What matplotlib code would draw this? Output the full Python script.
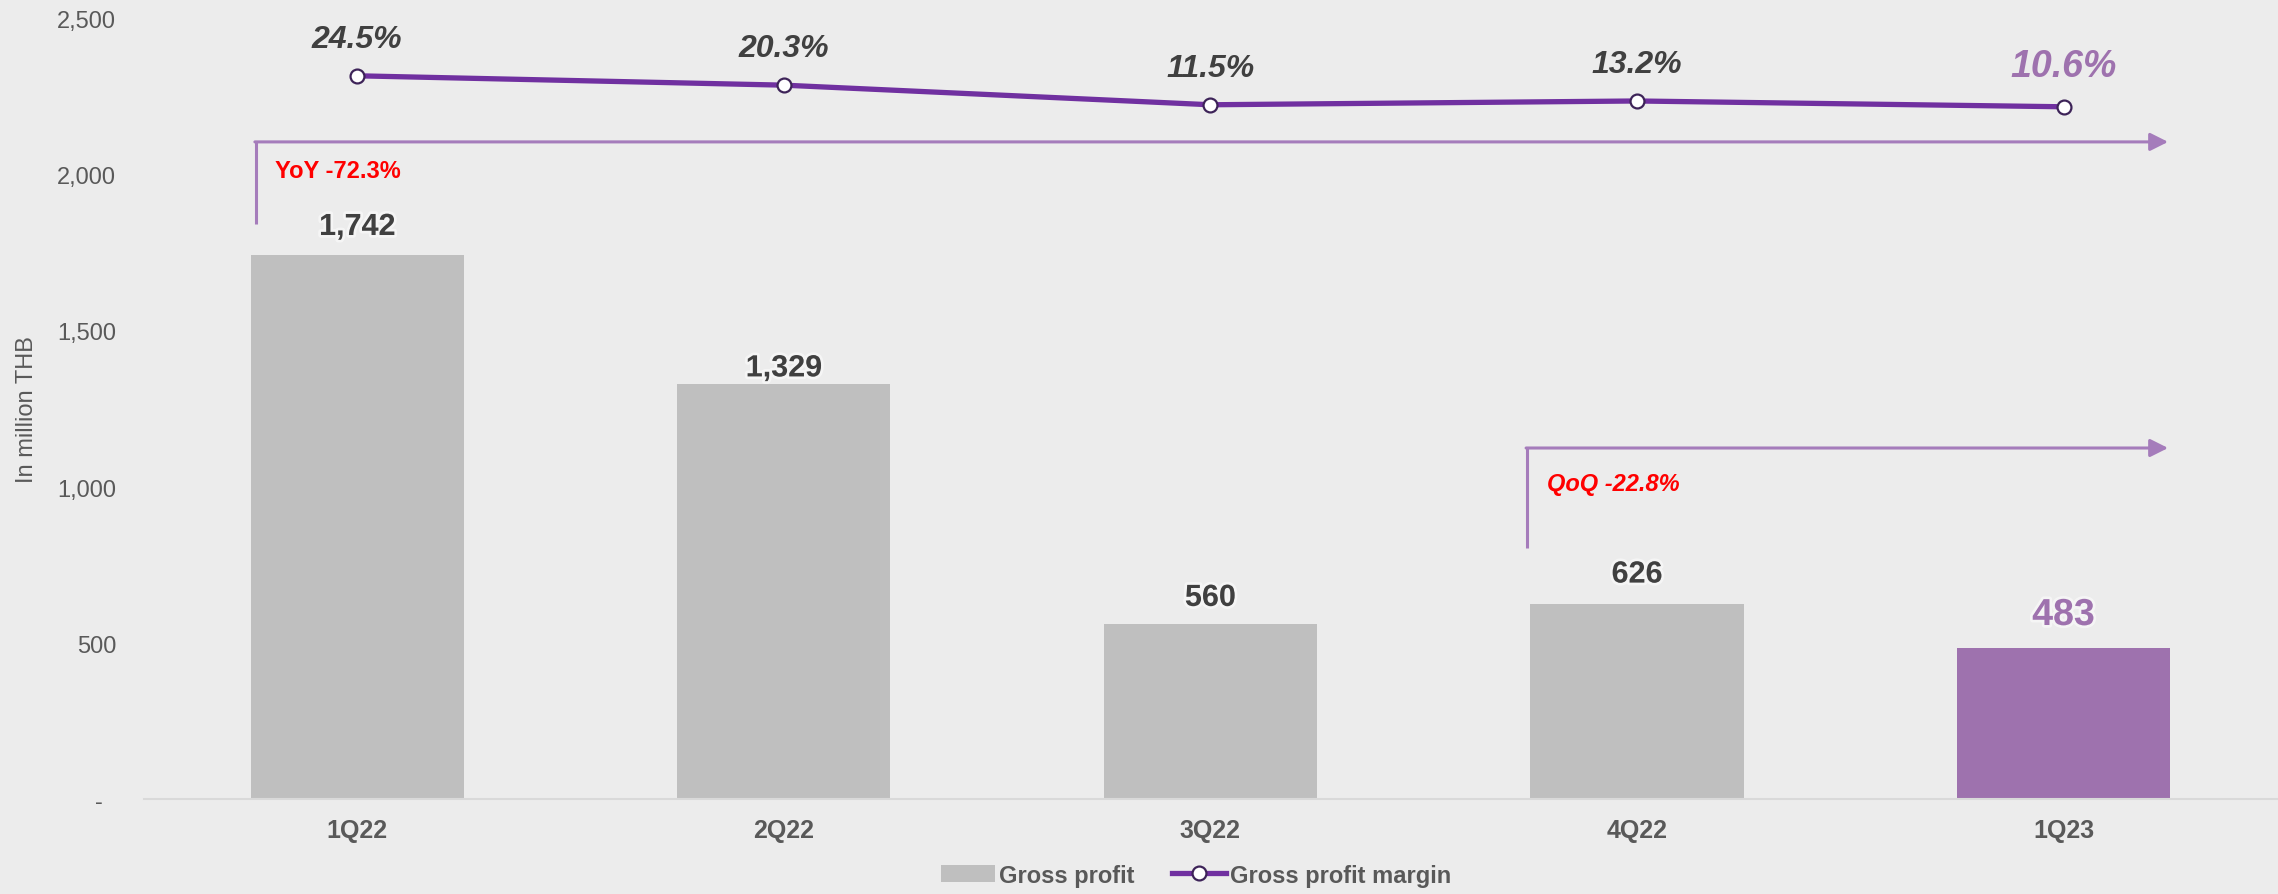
import matplotlib
matplotlib.use("Agg")
import matplotlib.pyplot as plt
import matplotlib.patheffects as pe
from matplotlib.patches import Patch
from matplotlib.lines import Line2D
from matplotlib.ticker import FuncFormatter

quarters = ["1Q22", "2Q22", "3Q22", "4Q22", "1Q23"]
gross_profit = [1742, 1329, 560, 626, 483]
gp_margin = [24.5, 20.3, 11.5, 13.2, 10.6]
yoy_label = "YoY -72.3%"
qoq_label = "QoQ -22.8%"

BG = "#ececec"
GREY_BAR = "#bfbfbf"
PURPLE_BAR = "#9e72ae"
LINE_PURPLE = "#7030a0"
ARROW_PURPLE = "#a57cbb"
TEXT_DARK = "#404040"
TICK_GREY = "#595959"
FONT = "Liberation Sans"

plt.rcParams["font.family"] = FONT

glow = [pe.withStroke(linewidth=4, foreground="white", alpha=0.5)]

fig = plt.figure(figsize=(22.78, 8.95), dpi=100, facecolor=BG)
ax = fig.add_axes([0.0632, 0.1061, 0.9363, 0.8716], facecolor=BG)

x = list(range(len(quarters)))
colors = [GREY_BAR] * (len(quarters) - 1) + [PURPLE_BAR]
ax.bar(x, gross_profit, width=0.5, color=colors, zorder=2)

ax.set_xlim(-0.5, len(quarters) - 0.5)
ax.set_ylim(0, 2500)
ax.set_yticks([0, 500, 1000, 1500, 2000, 2500])
# accounting style: zero shown as a dash with trailing padding
ax.yaxis.set_major_formatter(FuncFormatter(lambda v, p: "-  " if v == 0 else f"{v:,.0f}"))
ax.set_xticks(x)
ax.set_xticklabels(quarters, fontweight="bold")
ax.tick_params(axis="y", length=0, labelsize=17, labelcolor=TICK_GREY, pad=20)
ax.tick_params(axis="x", length=0, labelsize=18, labelcolor=TICK_GREY, pad=14)
for side in ["top", "right", "left"]:
    ax.spines[side].set_visible(False)
ax.spines["bottom"].set_color("#d9d9d9")
ax.spines["bottom"].set_linewidth(1.5)
ax.set_ylabel("In million THB", fontsize=17, color=TICK_GREY)
ax.yaxis.set_label_coords(-0.0495, 0.5)

# value labels on the bars (the 2Q22 one sits close to its bar)
label_offsets = [20.5, 11.5, 19, 21, 24]
for i, v in enumerate(gross_profit):
    last = i == len(gross_profit) - 1
    ax.annotate(f"{v:,}", (i, v), xytext=(0, label_offsets[i]),
                textcoords="offset points", ha="center", va="center",
                fontsize=22 if not last else 27, fontweight="bold",
                color=PURPLE_BAR if last else TEXT_DARK, path_effects=glow, zorder=5)

# margin line on a hidden secondary axis
ax2 = ax.twinx()
ax2.set_ylim(-300, 50)
ax2.axis("off")
ax2.plot(x, gp_margin, color=LINE_PURPLE, linewidth=3.8, marker="o", markersize=10,
         markerfacecolor="white", markeredgecolor="#3d2358", markeredgewidth=1.6, zorder=4)
for i, m in enumerate(gp_margin):
    last = i == len(gp_margin) - 1
    ax2.annotate(f"{m:.1f}%", (i, m), xytext=(0, 26.5 if not last else 29.5),
                 textcoords="offset points", ha="center", va="center",
                 fontsize=23 if not last else 27, fontweight="bold", fontstyle="italic",
                 color=PURPLE_BAR if last else TEXT_DARK, zorder=5)

# YoY / QoQ brackets
def bracket(x0, y_low, y_high, x1, label, style):
    ax.plot([x0, x0], [y_low, y_high], color=ARROW_PURPLE, linewidth=2.2,
            solid_capstyle="butt", zorder=3)
    ax.annotate("", xy=(x1, y_high), xytext=(x0 - 0.003, y_high),
                arrowprops=dict(arrowstyle="-|>,head_length=0.4,head_width=0.2",
                                mutation_scale=27, color=ARROW_PURPLE, lw=2.2,
                                shrinkA=0, shrinkB=0), zorder=3)
    ax.text(x0 + 0.045, y_high - 92 if style == "normal" else y_high - 115, label,
            color="#ff0000", fontsize=17, fontweight="bold", fontstyle=style,
            ha="left", va="center", zorder=5)

bracket(-0.237, 1843, 2106, 4.245, yoy_label, "normal")
bracket(2.743, 804, 1125, 4.245, qoq_label, "italic")

handles = [
    Patch(facecolor=GREY_BAR, edgecolor="none"),
    Line2D([0], [0], color=LINE_PURPLE, linewidth=3.8, marker="o", markersize=10,
           markerfacecolor="white", markeredgecolor="#3d2358", markeredgewidth=1.6),
]
fig.legend(handles, ["Gross profit", "Gross profit margin"], loc="center",
           bbox_to_anchor=(0.525, 0.021), ncol=2, frameon=False,
           handlelength=2.3, handleheight=0.7, handletextpad=0.15, columnspacing=1.6,
           prop={"family": FONT, "size": 17, "weight": "bold"}, labelcolor=TICK_GREY)

fig.savefig("out.png", dpi=100, facecolor=BG)
